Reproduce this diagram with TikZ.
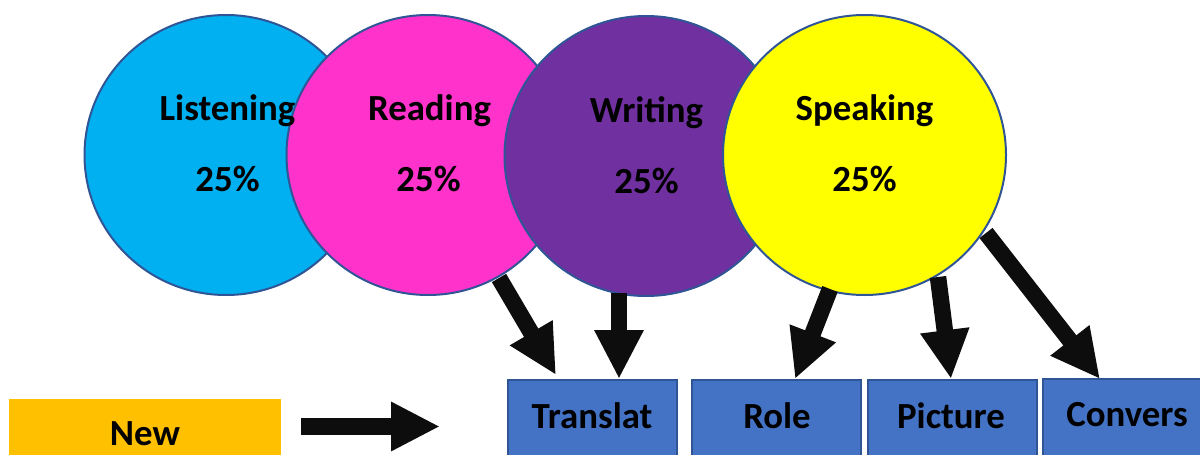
\documentclass[tikz,border=0pt]{standalone}
\usepackage{fontspec}
\setmainfont{Carlito}
\usetikzlibrary{arrows.meta,shapes.geometric}
\definecolor{edgeblue}{HTML}{2F5597}
\definecolor{boxblue}{HTML}{4472C4}
\definecolor{arrowblack}{HTML}{0D0D0D}
\definecolor{cskyblue}{HTML}{00B0F0}
\definecolor{cpink}{HTML}{FF33CC}
\definecolor{cpurple}{HTML}{7030A0}
\definecolor{cyellow}{HTML}{FFFF00}
\definecolor{corange}{HTML}{FFC000}
\tikzset{
 x=1pt,y=-1pt,
 circ/.style={ellipse,draw=edgeblue,line width=2pt,minimum width=283pt,minimum height=280pt,inner sep=0pt},
 lab/.style={font=\bfseries\fontsize{36.8}{40}\selectfont,text=black,inner sep=0pt,anchor=base},
 boxn/.style={draw=edgeblue,line width=2pt,fill=boxblue,inner sep=0pt},
 fat/.style={draw=arrowblack,line width=16.5pt,-{Triangle[length=49pt,width=46pt]}},
}
\begin{document}
\begin{tikzpicture}
\useasboundingbox (0,0) rectangle (1200,455);
\node[circ,fill=cskyblue] (c1) at (226,155) {};
\node[circ,fill=cpink] (c2) at (428,155) {};
\node[circ,fill=cpurple] (c3) at (646,156) {};
\node[circ,fill=cyellow] (c4) at (864.5,155) {};
\node[lab] (t1) at (227.5,120.5) {Listening};
\node[lab] (p1) at (227.5,191.5) {25\%};
\node[lab] (t2) at (429.5,120.5) {Reading};
\node[lab] (p2) at (428.5,191.5) {25\%};
\node[lab] (t3) at (646.5,122.5) {Writing};
\node[lab] (p3) at (646.5,193.5) {25\%};
\node[lab] (t4) at (864.5,120.5) {Speaking};
\node[lab] (p4) at (864.5,191.5) {25\%};
\node[boxn,minimum width=169pt,minimum height=78pt] (b1) at (592.5,419) {};
\node[boxn,minimum width=169pt,minimum height=78pt] (b2) at (776.5,419) {};
\node[boxn,minimum width=169pt,minimum height=78pt] (b3) at (952,419) {};
\node[boxn,minimum width=160pt,minimum height=78pt] (b4) at (1123,417.5) {};
\node[lab] (l1) at (592,428) {Translat};
\node[lab] (l2) at (777,428) {Role};
\node[lab] (l3) at (951,428) {Picture};
\node[lab] (l4) at (1127,426) {Convers};
\node[fill=corange,minimum width=272pt,minimum height=56pt,inner sep=0pt] (n) at (145,427) {};
\node[lab] (nl) at (145,445) {New};
\coordinate (a1s) at (499,278); \coordinate (a1e) at (556,375);
\coordinate (a2s) at (619,293); \coordinate (a2e) at (619,379);
\coordinate (a3s) at (830,289); \coordinate (a3e) at (795,379);
\coordinate (a4s) at (938,277); \coordinate (a4e) at (951,379);
\coordinate (a5s) at (986,233); \coordinate (a5e) at (1100,379);
\coordinate (a6s) at (301,426.5); \coordinate (a6e) at (440,426.5);
\draw[fat] (a1s) -- (a1e);
\draw[fat] (a2s) -- (a2e);
\draw[fat] (a3s) -- (a3e);
\draw[fat] (a4s) -- (a4e);
\draw[fat] (a5s) -- (a5e);
\draw[fat] (a6s) -- (a6e);
\end{tikzpicture}
\end{document}
